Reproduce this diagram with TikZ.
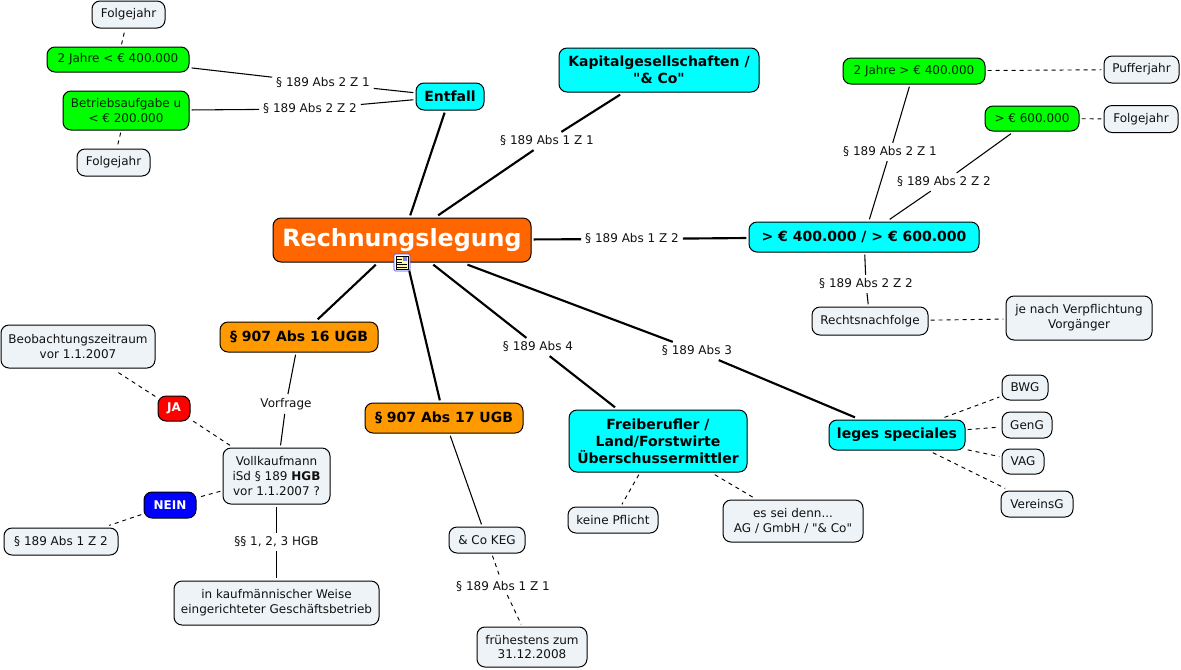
\documentclass[tikz,border=0pt]{standalone}
\usepackage{fontspec}
\setmainfont{DejaVu Sans}
\newfontfamily\quotefont{DejaVu Sans}
\newcommand\straightq{{\quotefont\symbol{34}}}
\definecolor{lightbox}{HTML}{EDF3F6}
\definecolor{cyanbox}{HTML}{00FFFF}
\definecolor{greenbox}{HTML}{00FF00}
\definecolor{mainbox}{HTML}{FF6600}
\definecolor{orangebox}{HTML}{FF9900}
\definecolor{inkdark}{HTML}{111111}
\tikzset{
  boxsize/.style 2 args={minimum width=#1*0.75pt,minimum height=#2*0.75pt},
  base/.style={draw=black,line width=0.75pt,rounded corners=6pt,inner sep=0pt,outer sep=2pt,align=center,text=inkdark,font=\fontsize{9}{11.2}\selectfont},
  light/.style={base,fill=lightbox},
  greenn/.style={base,fill=greenbox,text=black!85!green},
  cyann/.style={base,fill=cyanbox,text=black,font=\fontsize{10.5}{12.6}\selectfont\bfseries},
  orangen/.style={base,fill=orangebox,text=black,font=\fontsize{10.5}{12.6}\selectfont\bfseries},
  mainn/.style={base,fill=mainbox,text=white,font=\fontsize{17.8}{22}\selectfont\bfseries},
  flag/.style={base,text=white,font=\fontsize{9}{11}\selectfont\bfseries},
  lab/.style={inner sep=1pt,outer sep=2pt,text=inkdark,font=\fontsize{9}{11}\selectfont},
  thick line/.style={draw=black,line width=1.6pt},
  thin line/.style={draw=black,line width=0.8pt},
  dash line/.style={draw=black,line width=0.7pt,dash pattern=on 3pt off 3pt},
}
\begin{document}
\begin{tikzpicture}[x=0.75pt,y=-0.75pt]
\useasboundingbox (0,0) rectangle (1181,669);
\fill[white] (0,0) rectangle (1181,669);
% nodes
\node[mainn,boxsize={258}{44}] (main) at (402,240) {Rechnungslegung};
\node[light,boxsize={73}{27}] (fj1) at (128.5,14.5) {Folgejahr};
\node[greenn,boxsize={142}{25}] (g1) at (118,59.5) {2 Jahre < € 400.000};
\node[greenn,boxsize={126}{39}] (g2) at (126,110.5) {Betriebsaufgabe u\\< € 200.000};
\node[light,boxsize={73}{27}] (fj2) at (113.5,162.5) {Folgejahr};
\node[cyann,boxsize={68}{27}] (entfall) at (450,96.5) {Entfall};
\node[cyann,boxsize={200}{44}] (kap) at (659,70) {Kapitalgesellschaften /\\\straightq\&\ Co\straightq};
\node[greenn,boxsize={142}{26}] (g3) at (914,71) {2 Jahre > € 400.000};
\node[light,boxsize={75}{27}] (puffer) at (1141.5,69.5) {Pufferjahr};
\node[greenn,boxsize={94}{25}] (g4) at (1032,118.5) {> € 600.000};
\node[light,boxsize={74}{27}] (fj3) at (1141,119) {Folgejahr};
\node[cyann,boxsize={230}{30}] (big) at (864,237) {> € 400.000 / > € 600.000};
\node[light,boxsize={116}{28}] (rn) at (870,321) {Rechtsnachfolge};
\node[light,boxsize={146}{44}] (jn) at (1079,318) {je nach Verpflichtung\\Vorgänger};
\node[orangen,boxsize={158}{30}] (o16) at (299,337) {§ 907 Abs 16 UGB};
\node[orangen,boxsize={158}{30}] (o17) at (444,418) {§ 907 Abs 17 UGB};
\node[cyann,boxsize={178}{62}] (frei) at (658,441) {Freiberufler /\\Land/Forstwirte\\Überschussermittler};
\node[cyann,boxsize={136}{30}] (leges) at (897,435) {leges speciales};
\node[light,boxsize={46}{25}] (bwg) at (1025,387.5) {BWG};
\node[light,boxsize={50}{26}] (geng) at (1027,425) {GenG};
\node[light,boxsize={42}{25}] (vag) at (1023,461.5) {VAG};
\node[light,boxsize={72}{26}] (verein) at (1037,504) {VereinsG};
\node[light,boxsize={90}{26}] (keine) at (613,520) {keine Pflicht};
\node[light,boxsize={140}{42}] (essei) at (793,521) {es sei denn...\\AG / GmbH / \straightq\&\ Co\straightq};
\node[light,boxsize={154}{43}] (beob) at (78,346.5) {Beobachtungszeitraum\\vor 1.1.2007};
\node[flag,fill=red,boxsize={32}{25}] (ja) at (174,408.5) {JA};
\node[flag,fill=blue,boxsize={52}{26}] (nein) at (170,505) {NEIN};
\node[light,boxsize={107}{56}] (voll) at (276.5,476) {Vollkaufmann\\iSd § 189 \textbf{HGB}\\vor 1.1.2007 ?};
\node[light,boxsize={114}{27}] (p12) at (61,541.5) {§ 189 Abs 1 Z 2};
\node[light,boxsize={205}{44}] (kfm) at (276.5,603) {in kaufmännischer Weise\\eingerichteter Geschäftsbetrieb};
\node[light,boxsize={76}{26}] (keg) at (487,540) {\& Co KEG};
\node[light,boxsize={110}{40}] (frueh) at (532,647) {frühestens zum\\31.12.2008};
% labels
\node[lab] (l1) at (323,83) {§ 189 Abs 2 Z 1};
\node[lab] (l2) at (310,109) {§ 189 Abs 2 Z 2};
\node[lab] (l3) at (547,141) {§ 189 Abs 1 Z 1};
\node[lab] (l4) at (632,239) {§ 189 Abs 1 Z 2};
\node[lab] (l5) at (890,152) {§ 189 Abs 2 Z 1};
\node[lab] (l6) at (944,182) {§ 189 Abs 2 Z 2};
\node[lab] (l7) at (866,284) {§ 189 Abs 2 Z 2};
\node[lab] (l8) at (538,347) {§ 189 Abs 4};
\node[lab] (l9) at (697,351) {§ 189 Abs 3};
\node[lab] (l10) at (286,404) {Vorfrage};
\node[lab] (l11) at (276.5,542) {§§ 1, 2, 3 HGB};
\node[lab] (l12) at (503,586) {§ 189 Abs 1 Z 1};
% connectors: thick
\draw[thick line] (main) -- (entfall);
\draw[thick line] (main) -- (l3);
\draw[thick line] (l3) -- (kap);
\draw[thick line] (main) -- (l4);
\draw[thick line] (l4) -- (big);
\draw[thick line] (main) -- (o16);
\draw[thick line] (main) -- (o17);
\draw[thick line] (main) -- (l8);
\draw[thick line] (l8) -- (frei);
\draw[thick line] (main) -- (l9);
\draw[thick line] (l9) -- (leges);
% connectors: thin
\draw[thin line] (entfall) -- (l1);
\draw[thin line] (l1) -- (g1);
\draw[thin line] (entfall) -- (l2);
\draw[thin line] (l2) -- (g2);
\draw[thin line] (big) -- (l5);
\draw[thin line] (l5) -- (g3);
\draw[thin line] (big) -- (l6);
\draw[thin line] (l6) -- (g4);
\draw[thin line] (big) -- (l7);
\draw[thin line] (l7) -- (rn);
\draw[thin line] (o16) -- (l10);
\draw[thin line] (l10) -- (voll);
\draw[thin line] (voll) -- (l11);
\draw[thin line] (l11) -- (kfm);
\draw[thin line] (o17) -- (keg);
% connectors: dashed
\draw[dash line] (g1) -- (fj1);
\draw[dash line] (g2) -- (fj2);
\draw[dash line] (g3) -- (puffer);
\draw[dash line] (g4) -- (fj3);
\draw[dash line] (rn) -- (jn);
\draw[dash line] (leges) -- (bwg);
\draw[dash line] (leges) -- (geng);
\draw[dash line] (leges) -- (vag);
\draw[dash line] (leges) -- (verein);
\draw[dash line] (frei) -- (keine);
\draw[dash line] (frei) -- (essei);
\draw[dash line] (voll) -- (ja);
\draw[dash line] (ja) -- (beob);
\draw[dash line] (voll) -- (nein);
\draw[dash line] (nein) -- (p12);
\draw[dash line] (keg) -- (l12);
\draw[dash line] (l12) -- (frueh);
% note icon on the central topic
\draw[draw=blue!70!white,fill=white,line width=0.6pt,rounded corners=1pt] (394,254) rectangle (410,271);
\draw[draw=black,fill=yellow!35!white,line width=0.6pt] (396,256) rectangle (408,269);
\fill[blue!50!white] (403,257) rectangle (407,261);
\draw[black,line width=0.5pt] (397,259) -- (402,259) (397,262) -- (402,262) (397,264.5) -- (407,264.5) (397,267) -- (407,267);
\end{tikzpicture}
\end{document}
